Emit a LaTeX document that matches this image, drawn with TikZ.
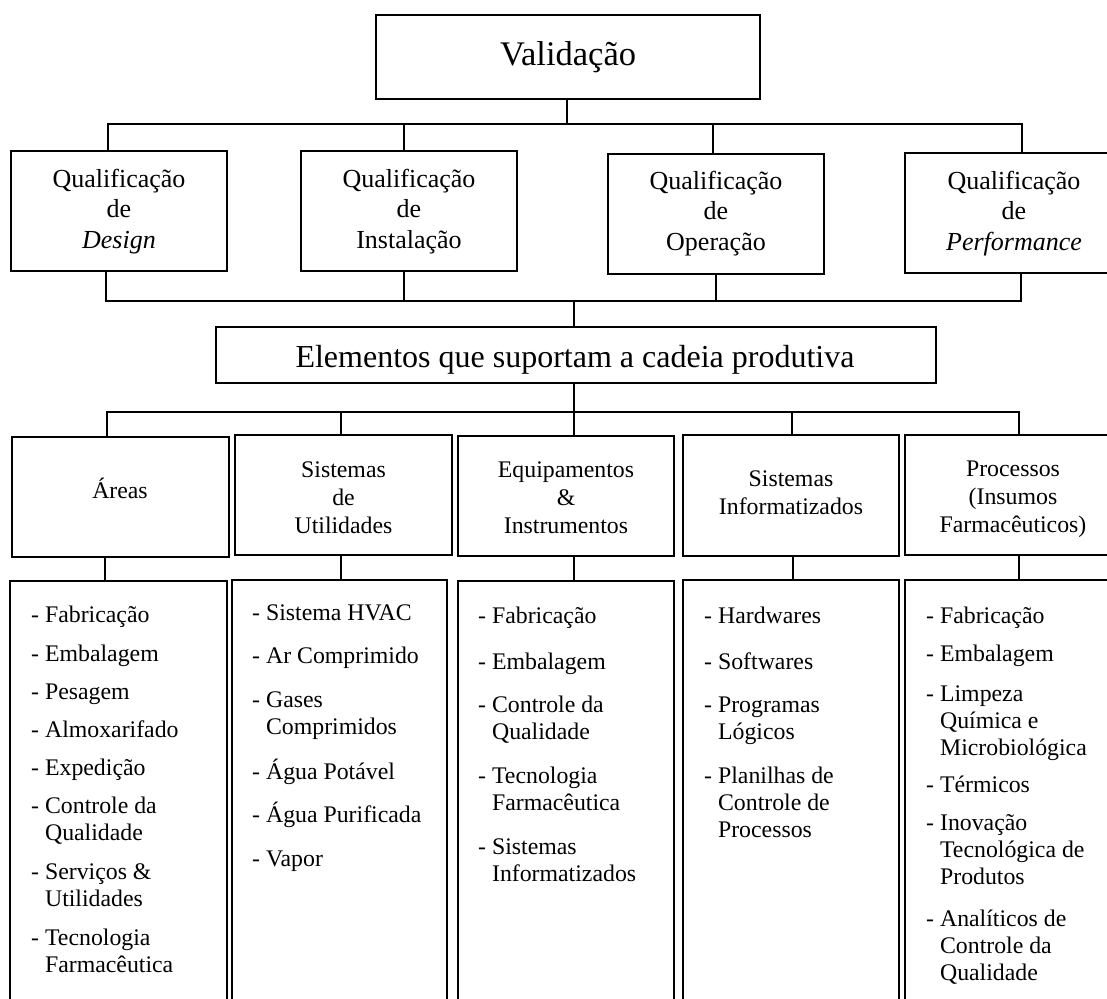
\documentclass[tikz,border=0pt]{standalone}
\usepackage{fontspec}
\setmainfont{Liberation Serif}
\newcommand{\itemtext}[1]{- \begin{tabular}[t]{@{}l@{}}#1\end{tabular}}
\begin{document}
\begin{tikzpicture}[x=1pt,y=-1pt,
  box/.style={draw,line width=1.8pt,inner sep=0pt,outer sep=0pt},
  conn/.style={line width=1.8pt},
  topfont/.style={font=\fontsize{34.5}{40}\selectfont,inner sep=0pt,anchor=base},
  qfont/.style={font=\fontsize{26}{30.5}\selectfont,align=center,inner sep=0pt,anchor=base},
  lfont/.style={font=\fontsize{23.8}{28}\selectfont,align=center,inner sep=0pt,anchor=base},
  itm/.style={font=\fontsize{23.8}{27}\selectfont,inner sep=0pt,anchor=base west}]
\useasboundingbox (0,0) rectangle (1107,998);
\begin{scope}
\clip (0,0) rectangle (1107,998);
% --- boxes
\node[box,minimum width=384pt,minimum height=84pt] (val) at (568,57) {};
\node[box,minimum width=216pt,minimum height=120pt] (q1) at (119,211) {};
\node[box,minimum width=216pt,minimum height=120pt] (q2) at (409,211) {};
\node[box,minimum width=216pt,minimum height=120pt] (q3) at (716,214) {};
\node[box,minimum width=216pt,minimum height=120pt] (q4) at (1013,213) {};
\node[box,minimum width=720pt,minimum height=56pt] (el) at (576,355) {};
\node[box,minimum width=217pt,minimum height=120pt] (b1) at (120.5,497) {};
\node[box,minimum width=217pt,minimum height=120pt] (b2) at (343.5,495) {};
\node[box,minimum width=216pt,minimum height=120pt] (b3) at (566,496) {};
\node[box,minimum width=216pt,minimum height=121pt] (b4) at (791,495.5) {};
\node[box,minimum width=216pt,minimum height=120pt] (b5) at (1013,495) {};
\node[box,minimum width=217pt,minimum height=440pt] (l1) at (118.5,801) {};
\node[box,minimum width=215pt,minimum height=440pt] (l2) at (339.5,800) {};
\node[box,minimum width=216pt,minimum height=440pt] (l3) at (566,801) {};
\node[box,minimum width=216pt,minimum height=440pt] (l4) at (791,800) {};
\node[box,minimum width=216pt,minimum height=440pt] (l5) at (1013,800) {};
% --- box texts (anchor = baseline of the last line)
\node[topfont] (valt) at (568,66) {Validação};
\node[qfont] (q1t) at (119,248) {Qualificação\\de\\\textit{Design}};
\node[qfont] (q2t) at (409,248) {Qualificação\\de\\Instalação};
\node[qfont] (q3t) at (716,250) {Qualificação\\de\\Operação};
\node[qfont] (q4t) at (1014,250) {Qualificação\\de\\\textit{Performance}};
\node[font=\fontsize{32}{36}\selectfont,inner sep=0pt,anchor=base] (elt) at (575,367) {Elementos que suportam a cadeia produtiva};
\node[lfont] (b1t) at (120,498) {Áreas};
\node[lfont] (b2t) at (343.5,533) {Sistemas\\de\\Utilidades};
\node[lfont] (b3t) at (566,533) {Equipamentos\\\&\\Instrumentos};
\node[lfont] (b4t) at (791,514) {Sistemas\\Informatizados};
\node[lfont] (b5t) at (1013,532) {Processos\\(Insumos\\Farmacêuticos)};
% --- list items
\node[itm] (a1) at (31,622) {\itemtext{Fabricação}};
\node[itm] (a2) at (31,661) {\itemtext{Embalagem}};
\node[itm] (a3) at (31,699) {\itemtext{Pesagem}};
\node[itm] (a4) at (31,737) {\itemtext{Almoxarifado}};
\node[itm] (a5) at (31,775) {\itemtext{Expedição}};
\node[itm] (a6) at (31,813) {\itemtext{Controle da\\Qualidade}};
\node[itm] (a7) at (31,879) {\itemtext{Serviços \&\\Utilidades}};
\node[itm] (a8) at (31,945) {\itemtext{Tecnologia\\Farmacêutica}};
\node[itm] (c1) at (252,620) {\itemtext{Sistema HVAC}};
\node[itm] (c2) at (252,663) {\itemtext{Ar Comprimido}};
\node[itm] (c3) at (252,707) {\itemtext{Gases\\Comprimidos}};
\node[itm] (c4) at (252,779) {\itemtext{Água Potável}};
\node[itm] (c5) at (252,822) {\itemtext{Água Purificada}};
\node[itm] (c6) at (252,866) {\itemtext{Vapor}};
\node[itm] (e1) at (478,623) {\itemtext{Fabricação}};
\node[itm] (e2) at (478,669) {\itemtext{Embalagem}};
\node[itm] (e3) at (478,712) {\itemtext{Controle da\\Qualidade}};
\node[itm] (e4) at (478,783) {\itemtext{Tecnologia\\Farmacêutica}};
\node[itm] (e5) at (478,854) {\itemtext{Sistemas\\Informatizados}};
\node[itm] (i1) at (704,623) {\itemtext{Hardwares}};
\node[itm] (i2) at (704,669) {\itemtext{Softwares}};
\node[itm] (i3) at (704,712) {\itemtext{Programas\\Lógicos}};
\node[itm] (i4) at (704,783) {\itemtext{Planilhas de\\Controle de\\Processos}};
\node[itm] (p1) at (926,623) {\itemtext{Fabricação}};
\node[itm] (p2) at (926,661) {\itemtext{Embalagem}};
\node[itm] (p3) at (926,701) {\itemtext{Limpeza\\Química e\\Microbiológica}};
\node[itm] (p4) at (926,792) {\itemtext{Térmicos}};
\node[itm] (p5) at (926,830) {\itemtext{Inovação\\Tecnológica de\\Produtos}};
\node[itm] (p6) at (926,926) {\itemtext{Analíticos de\\Controle da\\Qualidade}};
% --- connectors, level 0 -> 1
\coordinate (vb) at (567,124);
\coordinate (t1) at (108,124);
\coordinate (t2) at (404,124);
\coordinate (t3) at (713,124);
\coordinate (t4) at (1022,124);
\draw[conn] (val.south -| vb) -- (vb);
\draw[conn] (q1.north -| t1) -- (t1) -- (t4) -- (q4.north -| t4);
\draw[conn] (t2) -- (q2.north -| t2);
\draw[conn] (t3) -- (q3.north -| t3);
% --- level 1 -> 2
\coordinate (u1) at (106,301);
\coordinate (u2) at (404,301);
\coordinate (u3) at (716,301);
\coordinate (u4) at (1021,301);
\coordinate (ue) at (574,301);
\draw[conn] (q1.south -| u1) -- (u1) -- (u4) -- (q4.south -| u4);
\draw[conn] (q2.south -| u2) -- (u2);
\draw[conn] (q3.south -| u3) -- (u3);
\draw[conn] (ue) -- (el.north -| ue);
% --- level 2 -> 3
\coordinate (w0) at (574,412);
\coordinate (w1) at (107,412);
\coordinate (w2) at (341,412);
\coordinate (w3) at (574,412);
\coordinate (w4) at (792,412);
\coordinate (w5) at (1019,412);
\draw[conn] (el.south -| w0) -- (w0);
\draw[conn] (b1.north -| w1) -- (w1) -- (w5) -- (b5.north -| w5);
\draw[conn] (w2) -- (b2.north -| w2);
\draw[conn] (w3) -- (b3.north -| w3);
\draw[conn] (w4) -- (b4.north -| w4);
% --- level 3 -> lists
\coordinate (x1) at (105,0);
\coordinate (x2) at (341,0);
\coordinate (x3) at (574,0);
\coordinate (x4) at (793,0);
\coordinate (x5) at (1019,0);
\draw[conn] (b1.south -| x1) -- (l1.north -| x1);
\draw[conn] (b2.south -| x2) -- (l2.north -| x2);
\draw[conn] (b3.south -| x3) -- (l3.north -| x3);
\draw[conn] (b4.south -| x4) -- (l4.north -| x4);
\draw[conn] (b5.south -| x5) -- (l5.north -| x5);
\end{scope}
\end{tikzpicture}
\end{document}
